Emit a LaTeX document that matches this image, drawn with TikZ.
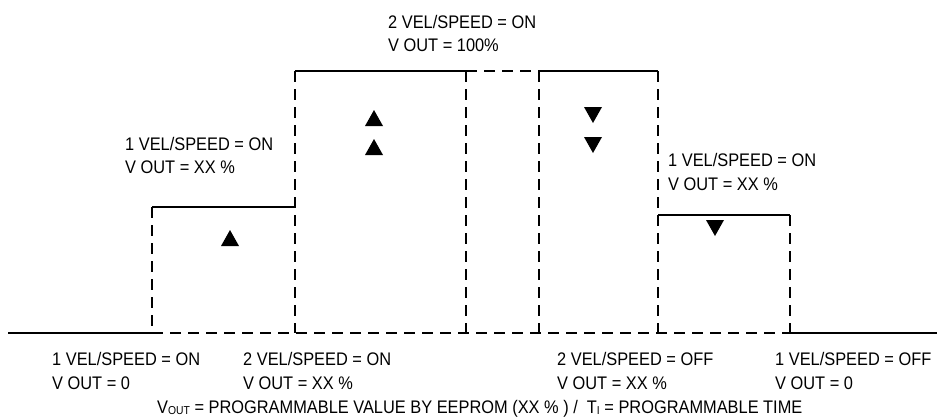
\documentclass[tikz,border=0pt]{standalone}
\usepackage{fontspec}
\setmainfont{Liberation Sans}[FakeStretch=0.9]
\begin{document}
\begin{tikzpicture}[x=1pt,y=-1pt,
  solidline/.style={line width=1.8pt},
  dashline/.style={line width=1.8pt,dash pattern=on 11pt off 7pt},
  lbl/.style={anchor=base west,inner sep=0pt,font=\fontsize{18.2}{20}\selectfont},
  uptri/.pic={\fill (-9,8) -- (9,8) -- (0,-8) -- cycle;},
  downtri/.pic={\fill (-9,-8) -- (9,-8) -- (0,8) -- cycle;}]
\useasboundingbox (0,0) rectangle (937,416);
% key coordinates
\coordinate (b0) at (8,333);
\coordinate (b1) at (152,333);
\coordinate (b2) at (295,333);
\coordinate (b3) at (466,333);
\coordinate (b4) at (539,333);
\coordinate (b5) at (658,333);
\coordinate (b6) at (790,333);
\coordinate (b7) at (937,333);
\coordinate (s1) at (152,207);
\coordinate (s2) at (295,207);
\coordinate (t2) at (295,71);
\coordinate (t3) at (466,71);
\coordinate (t4) at (539,71);
\coordinate (t5) at (658,71);
\coordinate (s5) at (658,215);
\coordinate (s6) at (790,215);
% baseline
\draw[solidline] (b0) -- (b1);
\draw[dashline] (b1) -- (b6);
\draw[solidline] (b6) -- (b7);
% steps
\draw[solidline] (s1) -- (s2);
\draw[solidline] (t2) -- (t3);
\draw[dashline] (t3) -- (t4);
\draw[solidline] (t4) -- (t5);
\draw[solidline] (s5) -- (s6);
% verticals
\draw[dashline] (s1) -- (b1);
\draw[dashline] (t2) -- (b2);
\draw[dashline] (t3) -- (b3);
\draw[dashline] (t4) -- (b4);
\draw[dashline] (t5) -- (b5);
\draw[dashline] (s6) -- (b6);
% triangles
\pic at (230,238) {uptri};
\pic at (374,118) {uptri};
\pic at (374,147) {uptri};
\pic at (593,115) {downtri};
\pic at (593,145) {downtri};
\pic at (715,228) {downtri};
% labels
\node[lbl] (ta) at (388,28) {2 VEL/SPEED = ON};
\node[lbl] (tb) at (388,51) {V OUT = 100\%};
\node[lbl] (la) at (125,150) {1 VEL/SPEED = ON};
\node[lbl] (lb) at (125,173) {V OUT = XX \%};
\node[lbl] (ra) at (668,166) {1 VEL/SPEED = ON};
\node[lbl] (rb) at (668,190) {V OUT = XX \%};
\node[lbl] (p1a) at (52,365) {1 VEL/SPEED = ON};
\node[lbl] (p1b) at (52,389) {V OUT = 0};
\node[lbl] (p2a) at (243,365) {2 VEL/SPEED = ON};
\node[lbl] (p2b) at (243,389) {V OUT = XX \%};
\node[lbl] (p3a) at (557,365) {2 VEL/SPEED = OFF};
\node[lbl] (p3b) at (557,389) {V OUT = XX \%};
\node[lbl] (p4a) at (775,365) {1 VEL/SPEED = OFF};
\node[lbl] (p4b) at (775,389) {V OUT = 0};
\node[lbl] (note) at (157,413) {V\raisebox{-1.5pt}{\fontsize{11.5}{12}\selectfont OUT} = PROGRAMMABLE VALUE BY EEPROM (XX \% ) /\ \ T\raisebox{-1.5pt}{\fontsize{11.5}{12}\selectfont I} = PROGRAMMABLE TIME};
\end{tikzpicture}
\end{document}
